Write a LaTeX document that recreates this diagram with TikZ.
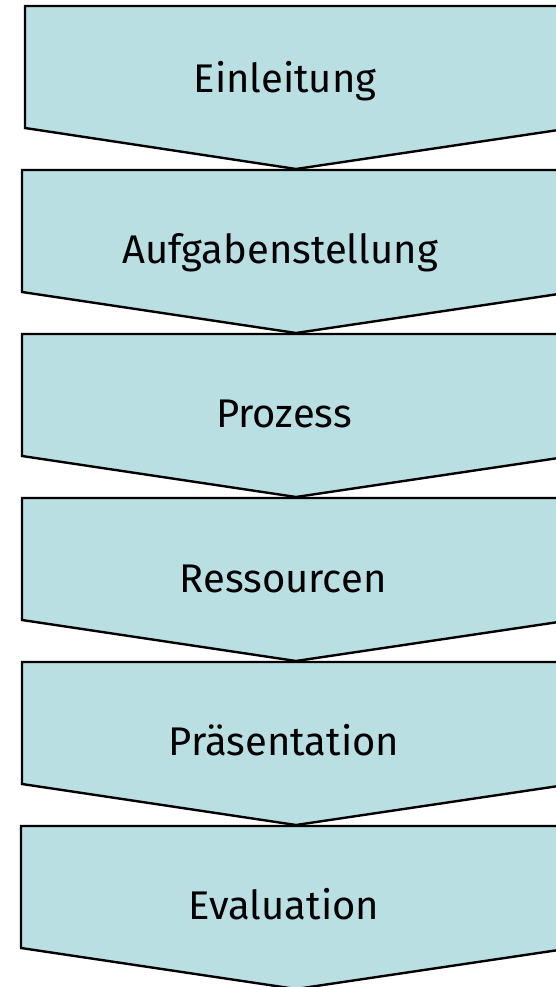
\documentclass[tikz,border=0pt]{standalone}
\usepackage{fontspec}
\setmainfont{Fira Sans}
\definecolor{boxfill}{RGB}{185,223,227}
\tikzset{
  chev/.style={draw=black, fill=boxfill, line width=2.4pt, line join=miter},
  lbl/.style={font=\fontsize{40}{46}\selectfont, anchor=base, inner sep=0pt}
}
\begin{document}
\begin{tikzpicture}[x=1pt,y=-1pt]
\useasboundingbox (0,0) rectangle (556,987);
\clip (0,0) rectangle (556,987);
\fill[white] (0,0) rectangle (556,987);
\foreach \t/\l in {6/25,170/22,334/22,498/22,662/22,826/21}{
  \path[chev] (\l,\t) -- (572,\t) -- (572,\t+122) -- (296,\t+163) -- (\l,\t+122) -- cycle;
}
\node[lbl] (n1) at (285,93) {Einleitung};
\node[lbl] (n2) at (280,263) {Aufgabenstellung};
\node[lbl] (n3) at (284,427) {Prozess};
\node[lbl] (n4) at (283,592) {Ressourcen};
\node[lbl] (n5) at (284,755) {Präsentation};
\node[lbl] (n6) at (284,919) {Evaluation};
\end{tikzpicture}
\end{document}
